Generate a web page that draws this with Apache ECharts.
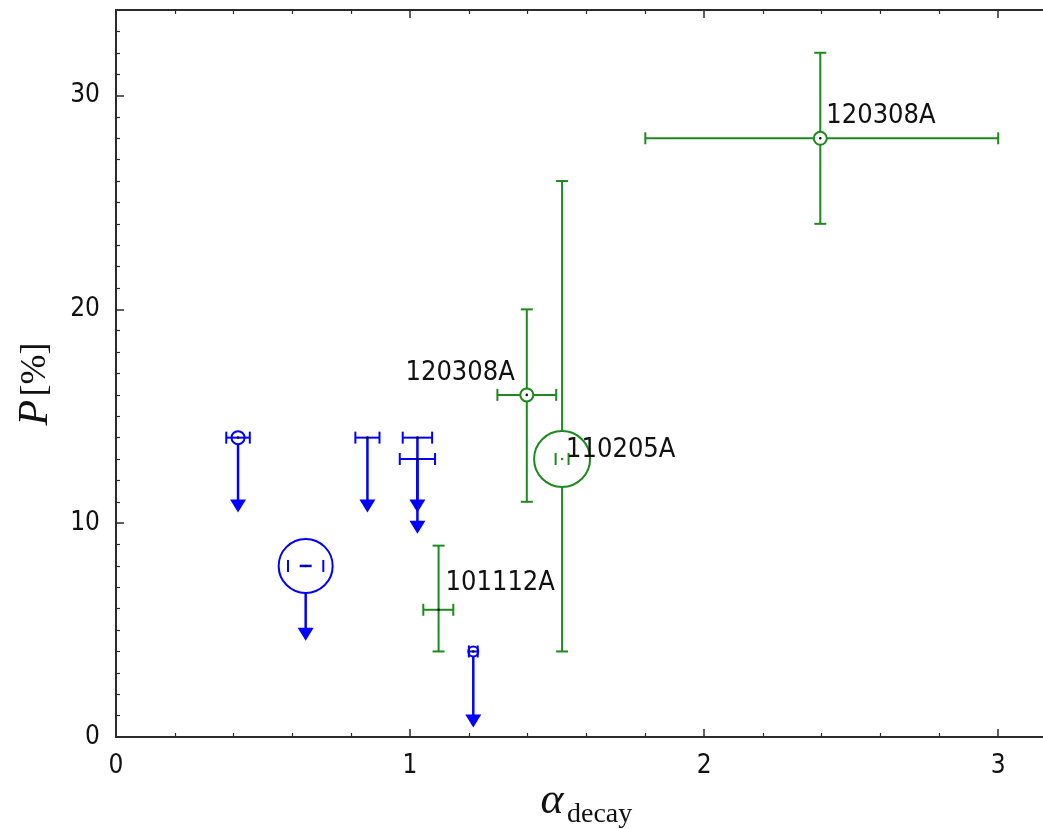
<!DOCTYPE html>
<html><head><meta charset="utf-8">
<script src="https://cdn.jsdelivr.net/npm/echarts@6/dist/echarts.min.js"></script>
<style>html,body{margin:0;padding:0;background:#fff;overflow:hidden}#c{width:1043px;height:829px}</style>
</head><body><div id="c"></div>
<script>
// ---- data ----
// Upper limits (blue)
const blueX = [0.415, 0.645, 0.855, 1.025, 1.025, 1.215];
const blueY = [14, 8, 14, 14, 13, 4];
const blueXErr = [0.04, 0.06, 0.041, 0.05, 0.06, 0.015];
const blueArrowTo = [10.5, 4.5, 10.5, 10.5, 9.5, 0.45];
const blueMarkerR = [6.5, 27, 0, 0, 0, 5];

// Measurements (green)
const greenNames = ['120308A', '120308A', '110205A', '101112A'];
const greenX = [2.395, 1.397, 1.517, 1.097];
const greenY = [28, 16, 13, 5.95];
const greenXLo = [1.8, 1.297, 1.495, 1.045];
const greenXHi = [3.0, 1.497, 1.539, 1.147];
const greenYLo = [24, 11, 4, 4];
const greenYHi = [32, 20, 26, 8.95];
const greenMarkerR = [6.5, 6.5, 28, 0];

const xTickLabels = [0, 1, 2, 3];
const yTickLabels = [0, 10, 20, 30];

// ---- styles ----
const labelOffset = [[6, -22, 'left'], [-12, -22, 'right'], [4, -9, 'left'], [7, -27, 'left']];
const blueColor = '#0000ff';
const greenColor = '#1c8a1c';
const axisColor = '#2b2b2b';
const sansFont = '"DejaVu Sans Condensed", "Liberation Sans Narrow", "DejaVu Sans", sans-serif';
const serifFont = '"Liberation Serif", "DejaVu Serif", serif';

function capV(x, y, h, color) {
  return {type: 'line', shape: {x1: x, y1: y - h, x2: x, y2: y + h}, style: {stroke: color, lineWidth: 2}};
}
function capH(x, y, w, color) {
  return {type: 'line', shape: {x1: x - w, y1: y, x2: x + w, y2: y}, style: {stroke: color, lineWidth: 2}};
}
function dot(p, color) {
  return {type: 'circle', shape: {cx: p[0], cy: p[1], r: 1.3}, style: {fill: color}};
}

function renderBlue(params, api) {
  const i = params.dataIndex;
  const x = api.value(0), y = api.value(1), e = api.value(2), yt = api.value(3);
  const p = api.coord([x, y]);
  const pl = api.coord([x - e, y]);
  const pr = api.coord([x + e, y]);
  const pt = api.coord([x, yt]);
  const r = blueMarkerR[i];
  const c = blueColor;
  const ah = 13, aw = 8;
  const ch = [];
  ch.push({type: 'line', shape: {x1: p[0], y1: p[1], x2: pt[0], y2: pt[1] - ah + 2}, style: {stroke: c, lineWidth: 2.5}});
  ch.push({type: 'polygon', shape: {points: [[pt[0] - aw, pt[1] - ah], [pt[0] + aw, pt[1] - ah], [pt[0], pt[1]]]}, style: {fill: c}});
  if (r > 15) {
    ch.push({type: 'circle', shape: {cx: p[0], cy: p[1], r: r}, style: {fill: '#fff', stroke: c, lineWidth: 2}});
    ch.push(capV(pl[0], pl[1], 6, c));
    ch.push(capV(pr[0], pr[1], 6, c));
    ch.push({type: 'line', shape: {x1: p[0] - 6, y1: p[1], x2: p[0] + 6, y2: p[1]}, style: {stroke: c, lineWidth: 2.5}});
  } else {
    if (r > 0) ch.push({type: 'circle', shape: {cx: p[0], cy: p[1], r: r}, style: {fill: '#fff', stroke: c, lineWidth: 2}});
    ch.push({type: 'line', shape: {x1: pl[0], y1: pl[1], x2: pr[0], y2: pr[1]}, style: {stroke: c, lineWidth: 2}});
    ch.push(capV(pl[0], pl[1], 6, c));
    ch.push(capV(pr[0], pr[1], 6, c));
  }
  ch.push(dot(p, '#111'));
  return {type: 'group', children: ch};
}

function renderGreen(params, api) {
  const i = params.dataIndex;
  const x = api.value(0), y = api.value(1);
  const xlo = api.value(2), xhi = api.value(3), ylo = api.value(4), yhi = api.value(5);
  const p = api.coord([x, y]);
  const pl = api.coord([xlo, y]), pr = api.coord([xhi, y]);
  const pb = api.coord([x, ylo]), pu = api.coord([x, yhi]);
  const r = greenMarkerR[i];
  const c = greenColor;
  const ch = [];
  ch.push({type: 'line', shape: {x1: pb[0], y1: pb[1], x2: pu[0], y2: pu[1]}, style: {stroke: c, lineWidth: 2}});
  ch.push(capH(pb[0], pb[1], 6, c));
  ch.push(capH(pu[0], pu[1], 6, c));
  if (r > 15) {
    ch.push({type: 'circle', shape: {cx: p[0], cy: p[1], r: r}, style: {fill: '#fff', stroke: c, lineWidth: 2}});
    ch.push(capV(pl[0], pl[1], 6, c));
    ch.push(capV(pr[0], pr[1], 6, c));
    ch.push(dot(p, c));
  } else {
    ch.push({type: 'line', shape: {x1: pl[0], y1: pl[1], x2: pr[0], y2: pr[1]}, style: {stroke: c, lineWidth: 2}});
    ch.push(capV(pl[0], pl[1], 6, c));
    ch.push(capV(pr[0], pr[1], 6, c));
    if (r > 0) ch.push({type: 'circle', shape: {cx: p[0], cy: p[1], r: r}, style: {fill: '#fff', stroke: c, lineWidth: 2}});
    ch.push(dot(p, '#111'));
  }
  const o = labelOffset[i];
  ch.push({type: 'text', x: p[0] + o[0], y: p[1] + o[1],
    style: {text: greenNames[i], fill: '#111', font: '27px ' + sansFont, align: o[2], verticalAlign: 'middle'}});
  return {type: 'group', children: ch};
}

const blueData = blueX.map((x, i) => [x, blueY[i], blueXErr[i], blueArrowTo[i]]);
const greenData = greenX.map((x, i) => [x, greenY[i], greenXLo[i], greenXHi[i], greenYLo[i], greenYHi[i]]);

const axisCommon = {
  type: 'value',
  axisLine: {show: true, onZero: false, lineStyle: {color: axisColor, width: 2}},
  axisTick: {show: true, inside: true, length: 8, lineStyle: {color: axisColor, width: 1.5}},
  minorTick: {show: true, length: 4, lineStyle: {color: axisColor, width: 1.2}},
  splitLine: {show: false},
  minorSplitLine: {show: false}
};

const chart = echarts.init(document.getElementById('c'), null, {renderer: 'canvas'});
chart.setOption({
  backgroundColor: '#fff',
  animation: false,
  grid: {left: 116, top: 10, width: 941, height: 727, containLabel: false, outerBoundsMode: 'none'},
  xAxis: [
    Object.assign({}, axisCommon, {
      position: 'bottom', min: 0, max: 3.2, interval: 1,
      minorTick: Object.assign({}, axisCommon.minorTick, {splitNumber: 5}),
      axisLabel: {fontSize: 26, color: '#111', margin: 16, fontFamily: sansFont,
        formatter: v => xTickLabels.some(t => Math.abs(t - v) < 1e-9) ? String(Math.round(v)) : ''}
    }),
    Object.assign({}, axisCommon, {
      position: 'top', min: 0, max: 3.2, interval: 1,
      minorTick: Object.assign({}, axisCommon.minorTick, {splitNumber: 5}),
      axisLabel: {show: false}
    })
  ],
  yAxis: Object.assign({}, axisCommon, {
    position: 'left', min: 0, max: 34, interval: 10,
    minorTick: Object.assign({}, axisCommon.minorTick, {splitNumber: 10}),
    axisLabel: {fontSize: 26, color: '#111', margin: 16, fontFamily: sansFont,
      formatter: v => yTickLabels.some(t => Math.abs(t - v) < 1e-9) ? String(Math.round(v)) : ''}
  }),
  graphic: [
    {type: 'text', x: 552, y: 801, style: {text: 'α', font: 'italic 44px ' + serifFont, fill: '#111', align: 'center', verticalAlign: 'middle'}},
    {type: 'text', x: 567, y: 815, style: {text: 'decay', font: '28px ' + serifFont, fill: '#111', align: 'left', verticalAlign: 'middle'}},
    {type: 'text', x: 36, y: 384, rotation: Math.PI / 2,
      style: {text: '{p|P} {b|[%]}', align: 'center', verticalAlign: 'middle',
        rich: {p: {font: 'italic 42px ' + serifFont, fill: '#111'}, b: {font: '36px ' + serifFont, fill: '#111'}}}}
  ],
  series: [
    {type: 'custom', xAxisIndex: 0, yAxisIndex: 0, renderItem: renderGreen, data: greenData, encode: {x: 0, y: 1}, z: 2},
    {type: 'custom', xAxisIndex: 0, yAxisIndex: 0, renderItem: renderBlue, data: blueData, encode: {x: 0, y: 1}, z: 3}
  ]
});
</script></body></html>
